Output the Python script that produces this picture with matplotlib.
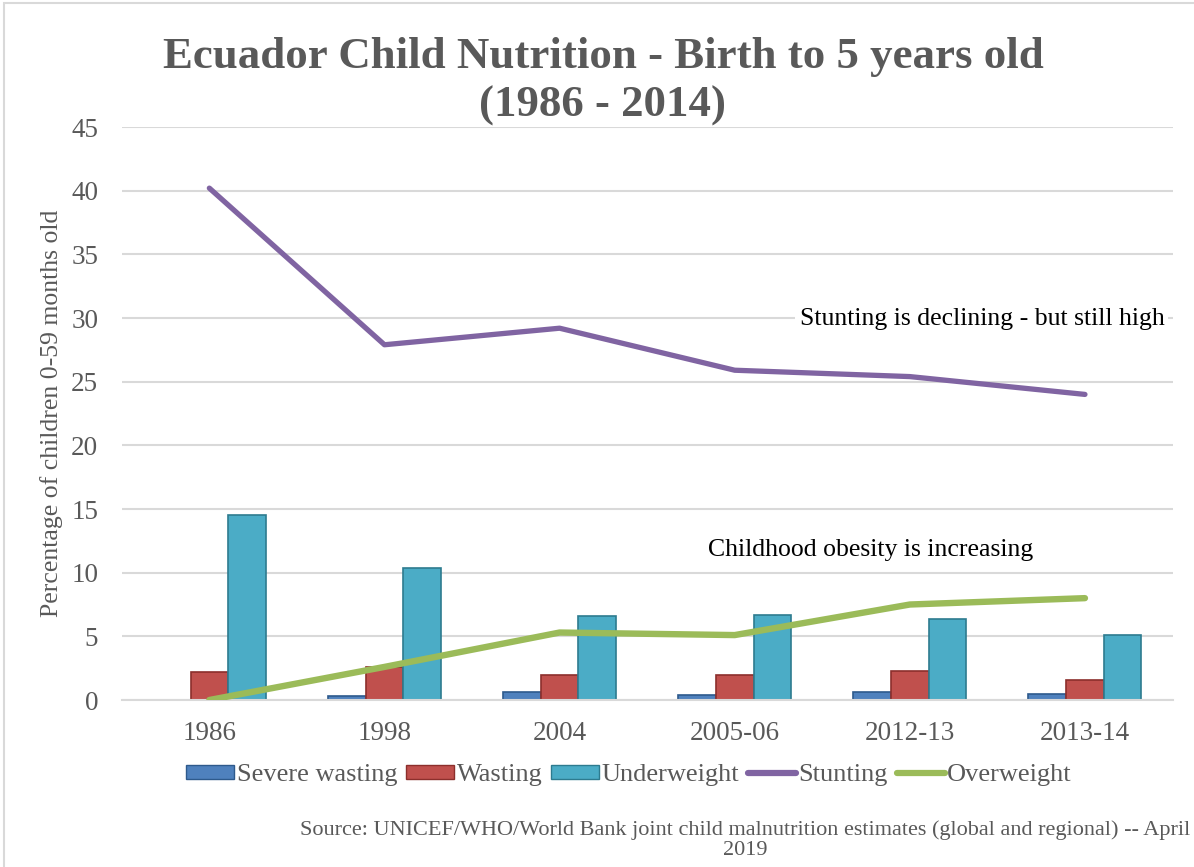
import numpy as np
import matplotlib
matplotlib.use("Agg")
import matplotlib.pyplot as plt
from matplotlib.patches import Rectangle
from matplotlib.lines import Line2D

# data
years = ["1986", "1998", "2004", "2005-06", "2012-13", "2013-14"]
severe_wasting = [0.0, 0.3, 0.6, 0.4, 0.6, 0.5]
wasting = [2.2, 2.6, 2.0, 2.0, 2.3, 1.6]
underweight = [14.5, 10.4, 6.6, 6.7, 6.4, 5.1]
stunting = [40.2, 27.9, 29.2, 25.9, 25.4, 24.0]
overweight = [0.0, 2.6, 5.3, 5.1, 7.5, 8.0]

c_sev = "#4F81BD"
c_wast = "#C0504D"
c_under = "#4BACC6"
c_stunt = "#8064A2"
c_over = "#9BBB59"
grey = "#595959"

plt.rcParams['font.family'] = ['Liberation Serif', 'DejaVu Serif']

fig = plt.figure(figsize=(11.94, 8.67), dpi=100)
ax = fig.add_axes([0.102, 0.1926, 0.88, 0.6609])

x = np.arange(len(years))
w = 0.215
bar_kw = dict(width=w, linewidth=1.2, zorder=2)
ax.bar(x - w, severe_wasting, color=c_sev, edgecolor="#2E5A8C", **bar_kw)
ax.bar(x, wasting, color=c_wast, edgecolor="#8C2F2C", **bar_kw)
ax.bar(x + w, underweight, color=c_under, edgecolor="#2D7B8F", **bar_kw)

ax.plot(x, stunting, color=c_stunt, lw=3.8, solid_capstyle="round",
        solid_joinstyle="round", zorder=3)
ax.plot(x, overweight, color=c_over, lw=4.6, solid_capstyle="round",
        solid_joinstyle="round", zorder=3)

ax.set_xlim(-0.5, 5.5)
ax.set_ylim(0, 45)
ax.set_yticks(range(0, 46, 5))
ax.set_xticks(x)
ax.set_xticklabels(years)
ax.tick_params(length=0, labelsize=19.5, colors=grey, pad=15)
ax.tick_params(axis="y", pad=17)
ax.grid(axis="y", color="#D9D9D9", lw=1.5, zorder=0)
ax.set_axisbelow(True)
for s in ["top", "right", "left"]:
    ax.spines[s].set_visible(False)
ax.spines["bottom"].set_color("#D9D9D9")
ax.spines["bottom"].set_linewidth(1.5)

ax.set_ylabel("Percentage of children 0-59 months old", fontsize=18.5,
              color=grey, labelpad=6)

ax.text(3.37, 29.9, "Stunting is declining - but still high", fontsize=18.5,
        color="black", ha="left", va="center", zorder=4,
        bbox=dict(facecolor="white", edgecolor="none", pad=3))
ax.text(2.85, 11.8, "Childhood obesity is increasing", fontsize=18.5,
        color="black", ha="left", va="center", zorder=4,
        bbox=dict(facecolor="white", edgecolor="none", pad=3))

fig.text(0.505, 0.906, "Ecuador Child Nutrition - Birth to 5 years old\n(1986 - 2014)",
         ha="center", va="center", fontsize=32.3, fontweight="bold",
         color=grey, linespacing=1.3)

handles = [
    Rectangle((0, 0), 1, 1, facecolor=c_sev, edgecolor="#2E5A8C"),
    Rectangle((0, 0), 1, 1, facecolor=c_wast, edgecolor="#8C2F2C"),
    Rectangle((0, 0), 1, 1, facecolor=c_under, edgecolor="#2D7B8F"),
    Line2D([], [], color=c_stunt, lw=4.5, solid_capstyle="round"),
    Line2D([], [], color=c_over, lw=4.5, solid_capstyle="round"),
]
labels = ["Severe wasting", "Wasting", "Underweight", "Stunting", "Overweight"]
leg = fig.legend(handles, labels, loc="center", bbox_to_anchor=(0.527, 0.106),
                 ncol=5, frameon=False, fontsize=19, handlelength=1.8,
                 handleheight=0.45, handletextpad=0.1, columnspacing=0.35)
for t in leg.get_texts():
    t.set_color(grey)

fig.text(0.624, 0.031, "Source: UNICEF/WHO/World Bank joint child malnutrition estimates (global and regional) -- April\n2019",
         ha="center", va="center", fontsize=16, color=grey,
         multialignment="center", linespacing=1.1)

fig.patches.append(Rectangle((0.003, -0.01), 1.2, 1.006, transform=fig.transFigure,
                             fill=False, edgecolor="#D9D9D9", lw=1.5))

fig.savefig("out.png", dpi=100)
